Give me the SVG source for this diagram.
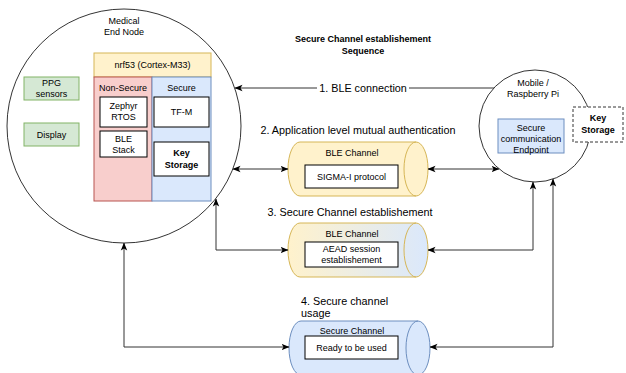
<svg xmlns="http://www.w3.org/2000/svg" width="626" height="373" viewBox="0 0 626 373">
<defs>
<marker id="ah" viewBox="0 0 8 8" refX="7.5" refY="4" markerWidth="8" markerHeight="8" markerUnits="userSpaceOnUse" orient="auto-start-reverse">
<path d="M0,0.8 L8,4 L0,7.2 L2,4 Z" fill="#000"/>
</marker>
<linearGradient id="g2" x1="0" y1="0" x2="1" y2="0">
<stop offset="0" stop-color="#fff2cc"/>
<stop offset="1" stop-color="#dae8fc"/>
</linearGradient>
<style>
text{font-family:"Liberation Sans",Arial,sans-serif;fill:#000;text-anchor:middle;dominant-baseline:central}
.s9{font-size:9px}
.b{font-weight:bold}
.lbl{font-size:10.8px}
.wb{fill:#fff;stroke:#000;stroke-width:1}
.ring{fill:#fff;stroke:#000;stroke-width:0.8}
.conn{fill:none;stroke:#333;stroke-width:1}
</style>
</defs>
<rect width="626" height="373" fill="#fff"/>

<g id="medical-end-node">
<circle class="ring" cx="124" cy="126" r="117"/>
<text class="s9" x="124" y="21">Medical</text>
<text class="s9" x="124" y="32">End Node</text>
</g>
<g id="ppg">
<rect x="24" y="77" width="55" height="23" fill="#d5e8d4" stroke="#82b366"/>
<text class="s9" x="51.5" y="83">PPG</text>
<text class="s9" x="51.5" y="94">sensors</text>
</g>
<g id="display">
<rect x="24" y="123" width="55" height="23" fill="#d5e8d4" stroke="#82b366"/>
<text class="s9" x="51.5" y="134.5">Display</text>
</g>
<g id="nrf53">
<rect x="94" y="53" width="117" height="24" fill="#fff2cc" stroke="#d6b656"/>
<text class="s9" x="152.5" y="65">nrf53 (Cortex-M33)</text>
</g>
<g id="non-secure">
<rect x="94" y="77" width="58" height="124" fill="#f8cecc" stroke="#b85450"/>
<text class="s9" x="123" y="88">Non-Secure</text>
</g>
<g id="secure">
<rect x="152" y="77" width="59" height="124" fill="#dae8fc" stroke="#6c8ebf"/>
<text class="s9" x="181.5" y="88">Secure</text>
</g>
<g id="zephyr">
<rect class="wb" x="100" y="97" width="47" height="30"/>
<text class="s9" x="123.5" y="106">Zephyr</text>
<text class="s9" x="123.5" y="117">RTOS</text>
</g>
<g id="ble-stack">
<rect class="wb" x="100" y="131" width="47" height="26"/>
<text class="s9" x="123.5" y="139">BLE</text>
<text class="s9" x="123.5" y="150">Stack</text>
</g>
<g id="tfm">
<rect class="wb" x="154" y="97" width="55" height="30"/>
<text class="s9" x="181.5" y="112">TF-M</text>
</g>
<g id="key-storage-node">
<rect class="wb" x="154" y="142" width="55" height="34"/>
<text class="s9 b" x="181.5" y="153">Key</text>
<text class="s9 b" x="181.5" y="165">Storage</text>
</g>

<g id="mobile">
<circle class="ring" cx="535" cy="126" r="56"/>
<text class="s9" x="533" y="83">Mobile /</text>
<text class="s9" x="533" y="94">Raspberry Pi</text>
</g>
<g id="endpoint">
<rect x="498" y="119" width="66" height="34" fill="#dae8fc" stroke="#6c8ebf"/>
<text class="s9" x="531" y="128">Secure</text>
<text class="s9" x="531" y="139">communication</text>
<text class="s9" x="531" y="150">Endpoint</text>
</g>
<g id="key-storage-mobile">
<rect x="573" y="107" width="50" height="35" fill="#fff" stroke="#000" stroke-width="0.8" stroke-dasharray="3,2"/>
<text class="s9 b" x="598" y="118">Key</text>
<text class="s9 b" x="598" y="130">Storage</text>
</g>

<g id="title">
<text class="s9 b" x="363" y="39">Secure Channel establishement</text>
<text class="s9 b" x="363" y="51">Sequence</text>
</g>

<g id="ble-channel-1">
<path d="M300,142 H416 A12,27 0 0 1 416,196 H300 A12,27 0 0 1 300,142 Z" fill="#fff2cc" stroke="#d6b656"/>
<path d="M416,142 A12,27 0 0 0 416,196" fill="none" stroke="#d6b656"/>
<text class="s9" x="352" y="153">BLE Channel</text>
<rect class="wb" x="305" y="165" width="93" height="23"/>
<text class="s9" x="351.5" y="176.5">SIGMA-I protocol</text>
</g>
<g id="ble-channel-2">
<path d="M300,223 H416 A12,27 0 0 1 416,277 H300 A12,27 0 0 1 300,223 Z" fill="url(#g2)" stroke="#d6b656"/>
<path d="M416,223 A12,27 0 0 0 416,277" fill="none" stroke="#d6b656"/>
<text class="s9" x="352" y="234">BLE Channel</text>
<rect class="wb" x="305" y="242" width="93" height="25"/>
<text class="s9" x="351.5" y="249">AEAD session</text>
<text class="s9" x="351.5" y="260">establishement</text>
</g>
<g id="secure-channel">
<path d="M301,321 H418 A12,27 0 0 1 418,375 H301 A12,27 0 0 1 301,321 Z" fill="#dae8fc" stroke="#6c8ebf"/>
<path d="M418,321 A12,27 0 0 0 418,375" fill="none" stroke="#6c8ebf"/>
<text class="s9" x="352" y="331">Secure Channel</text>
<rect class="wb" x="305" y="336" width="93" height="23"/>
<text class="s9" x="351.5" y="347.5">Ready to be used</text>
</g>

<g id="connectors">
<path class="conn" d="M494,88 H235" marker-end="url(#ah)"/>
<path class="conn" d="M233,169 H288" marker-start="url(#ah)" marker-end="url(#ah)"/>
<path class="conn" d="M428,169 H499" marker-start="url(#ah)" marker-end="url(#ah)"/>
<path class="conn" d="M216,199 V250 H288" marker-start="url(#ah)" marker-end="url(#ah)"/>
<path class="conn" d="M428,250 H533 V182" marker-start="url(#ah)" marker-end="url(#ah)"/>
<path class="conn" d="M124,243 V347 H289" marker-start="url(#ah)" marker-end="url(#ah)"/>
<path class="conn" d="M430,347 H553 V179" marker-start="url(#ah)" marker-end="url(#ah)"/>
<rect x="317" y="81" width="92" height="14" fill="#fff"/>
<text class="lbl" x="363" y="88">1. BLE connection</text>
<text class="lbl" x="358" y="130">2. Application level mutual authentication</text>
<text class="lbl" x="350" y="212">3. Secure Channel establishement</text>
<text class="lbl" x="301" y="301" style="text-anchor:start">4. Secure channel</text>
<text class="lbl" x="301" y="313" style="text-anchor:start">usage</text>
</g>
</svg>
